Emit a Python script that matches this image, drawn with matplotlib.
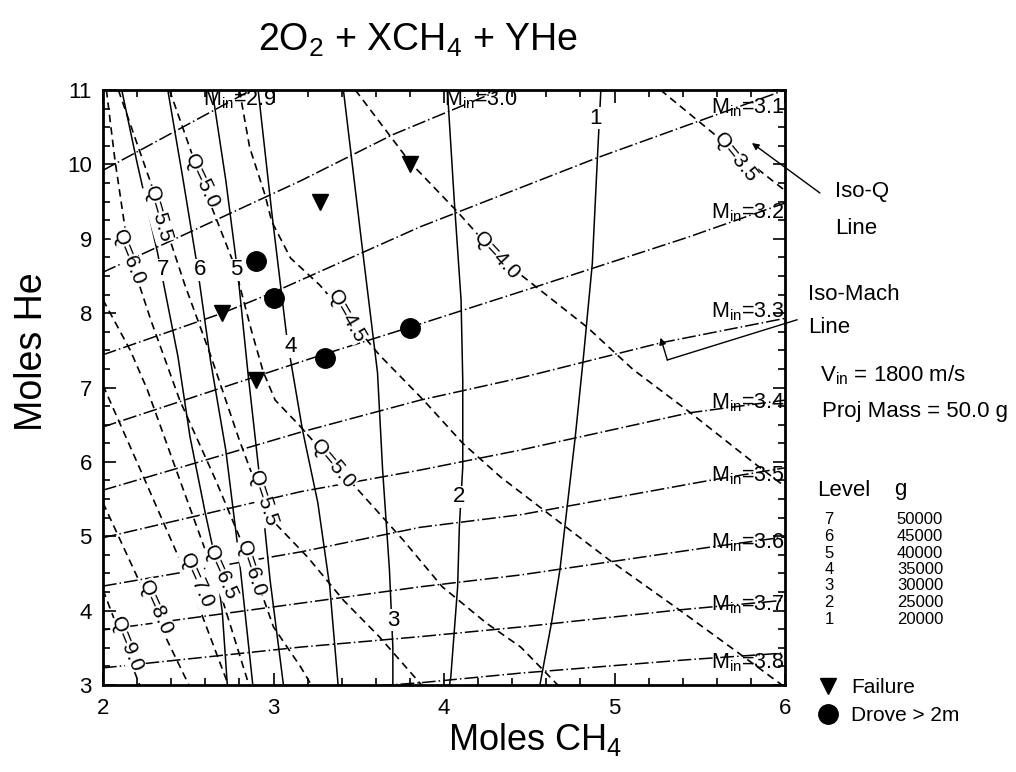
import matplotlib
matplotlib.use('Agg')
import matplotlib.pyplot as plt
from matplotlib.ticker import MultipleLocator

plt.rcParams['font.family'] = ['Liberation Sans', 'DejaVu Sans']
plt.rcParams['mathtext.fontset'] = 'custom'
plt.rcParams['mathtext.rm'] = 'Liberation Sans'
plt.rcParams['mathtext.it'] = 'Liberation Sans:italic'
plt.rcParams['mathtext.bf'] = 'Liberation Sans:bold'

# --- g-level contours (solid) ---
level_ids = [1, 2, 3, 4, 5, 6, 7]
level_x = [
    [4.92, 4.90, 4.87, 4.82, 4.77, 4.72, 4.68, 4.63, 4.56],
    [4.02, 4.06, 4.10, 4.11, 4.11, 4.09, 4.08, 4.04, 4.03],
    [3.41, 3.52, 3.61, 3.64, 3.68, 3.70, 3.70],
    [2.91, 2.99, 3.08, 3.17, 3.26, 3.33, 3.38],
    [2.64, 2.72, 2.79, 2.85, 2.92, 2.98, 3.06],
    [2.38, 2.47, 2.55, 2.63, 2.72, 2.80, 2.88],
    [2.11, 2.20, 2.32, 2.44, 2.51, 2.60, 2.66, 2.70, 2.73],
]
level_y = [
    [11.0, 10.10, 8.67, 7.46, 6.34, 5.35, 4.55, 3.83, 2.97],
    [11.0, 9.52, 8.18, 7.10, 5.93, 5.13, 4.32, 3.11, 2.97],
    [11.0, 8.89, 7.20, 5.89, 4.55, 3.51, 2.97],
    [11.0, 9.35, 7.64, 6.43, 5.45, 4.32, 2.97],
    [11.0, 9.79, 8.55, 7.20, 5.76, 4.41, 2.97],
    [11.0, 9.79, 8.67, 7.37, 6.16, 4.68, 2.97],
    [11.0, 10.02, 8.81, 7.41, 6.34, 5.31, 4.68, 3.97, 2.97],
]
level_label_x = [4.89, 4.09, 3.70, 3.10, 2.78, 2.57, 2.35]
level_label_y = [10.62, 5.53, 3.87, 7.55, 8.58, 8.58, 8.58]

# --- iso-Q lines (dashed) ---
q_values = [3.5, 4.0, 4.5, 5.0, 5.5, 6.0, 6.5, 7.0, 8.0, 9.0]
q_x = [
    [5.27, 5.70, 6.01],
    [3.48, 3.80, 4.08, 4.31, 4.84, 5.11, 5.44, 5.81, 6.01],
    [2.80, 2.86, 2.95, 2.99, 3.10, 3.27, 3.43, 3.62, 3.88, 4.11, 4.33, 4.62, 4.97, 5.38, 5.68, 6.0],
    [2.39, 2.58, 2.77, 2.87, 2.94, 3.01, 3.16, 3.34, 3.47, 3.76, 3.99, 4.25, 4.45, 4.68],
    [2.09, 2.32, 2.48, 2.63, 2.80, 2.93, 3.02, 3.20, 3.41, 3.62, 3.88],
    [2.02, 2.07, 2.15, 2.28, 2.45, 2.66, 2.87, 2.94, 3.00, 3.16, 3.23],
    [2.0, 2.16, 2.26, 2.45, 2.67, 2.86],
    [2.0, 2.22, 2.51, 2.74],
    [2.0, 2.29, 2.51],
    [2.0, 2.13, 2.22],
]
q_y = [
    [11.0, 10.19, 9.63],
    [11.0, 10.03, 9.36, 8.77, 7.81, 7.24, 6.67, 6.00, 5.65],
    [11.0, 10.23, 9.59, 9.23, 8.74, 8.38, 7.96, 7.44, 6.83, 6.25, 5.80, 5.29, 4.68, 4.01, 3.51, 2.97],
    [11.0, 9.76, 8.65, 7.77, 7.21, 6.83, 6.47, 6.00, 5.69, 4.95, 4.32, 3.83, 3.51, 2.97],
    [11.0, 9.49, 8.38, 7.44, 6.29, 5.49, 5.15, 4.72, 4.14, 3.65, 2.97],
    [11.0, 10.06, 8.82, 7.91, 6.83, 5.76, 4.61, 4.17, 3.78, 3.24, 2.97],
    [8.18, 7.50, 6.97, 5.76, 4.37, 2.97],
    [7.03, 5.89, 4.37, 2.97],
    [5.45, 4.01, 2.97],
    [4.28, 3.50, 2.97],
]
# label positions on the Q lines (upper set and lower set)
q_label_val = [6.0, 5.5, 5.0, 4.5, 4.0, 3.5, 5.0, 5.5, 6.0, 6.5, 7.0, 8.0, 9.0]
q_label_x = [2.15, 2.32, 2.58, 3.43, 4.31, 5.71, 3.35, 2.94, 2.87, 2.69, 2.55, 2.31, 2.14]
q_label_y = [8.75, 9.33, 9.78, 7.96, 8.77, 10.10, 5.97, 5.51, 4.57, 4.51, 4.40, 4.05, 3.55]
q_label_rot = [-68, -74, -65, -60, -47, -51, -50, -72, -72, -66, -66, -66, -68]

# --- iso-Mach lines (dash-dot) ---
mach_values = [2.9, 3.0, 3.1, 3.2, 3.3, 3.4, 3.5, 3.6, 3.7, 3.8]
mach_x = [
    [2.0, 2.87],
    [2.0, 3.16, 3.70, 4.33],
    [2.0, 2.70, 3.0, 3.86, 4.90, 6.0],
    [2.0, 2.90, 3.30, 3.80, 4.52, 5.43, 6.0],
    [2.0, 3.16, 3.86, 4.45, 5.27, 6.0],
    [2.0, 3.16, 3.86, 4.45, 5.44, 6.0],
    [2.0, 3.16, 3.86, 4.45, 5.58, 6.0],
    [2.0, 3.16, 3.86, 4.45, 5.58, 6.0],
    [2.0, 3.16, 3.86, 4.45, 5.38, 6.0],
    [3.62, 3.86, 4.45, 5.43, 6.0],
]
mach_y = [
    [9.92, 11.0],
    [8.55, 9.78, 10.40, 11.0],
    [7.44, 8.0, 8.28, 9.16, 10.09, 11.0],
    [6.47, 7.15, 7.45, 7.81, 8.34, 9.02, 9.48],
    [5.62, 6.40, 6.83, 7.13, 7.60, 7.93],
    [4.98, 5.60, 5.89, 6.16, 6.66, 6.83],
    [4.33, 4.79, 5.12, 5.29, 5.76, 5.92],
    [3.74, 4.10, 4.32, 4.48, 4.86, 4.99],
    [3.23, 3.51, 3.65, 3.78, 4.01, 4.14],
    [2.99, 3.03, 3.16, 3.34, 3.43],
]
mach_label_x = [2.80, 4.22, 6.0, 6.0, 6.0, 6.0, 6.0, 6.0, 6.0, 6.0]
mach_label_y = [10.87, 10.87, 10.76, 9.35, 8.02, 6.79, 5.82, 4.91, 4.08, 3.30]

# --- experiments ---
fail_x = [3.27, 3.80, 2.70, 2.90]
fail_y = [9.5, 10.0, 8.0, 7.1]
drove_x = [2.90, 3.00, 3.30, 3.80]
drove_y = [8.7, 8.2, 7.4, 7.8]

table_levels = [7, 6, 5, 4, 3, 2, 1]
table_g = [50000, 45000, 40000, 35000, 30000, 25000, 20000]

W, H = 1016, 772
fig = plt.figure(figsize=(W / 100, H / 100), dpi=100)
ax = fig.add_axes([103 / W, 1 - 685 / H, 682 / W, 595 / H])

for xs, ys in zip(level_x, level_y):
    ax.plot(xs, ys, color='black', lw=1.1)
for xs, ys in zip(q_x, q_y):
    ax.plot(xs, ys, color='black', lw=1.2, linestyle=(0, (4.5, 3)))
for xs, ys in zip(mach_x, mach_y):
    ax.plot(xs, ys, color='black', lw=1.1, linestyle=(0, (9, 2, 1, 2)))

for lvl, lx, ly in zip(level_ids, level_label_x, level_label_y):
    ax.text(lx, ly, str(lvl), fontsize=16, ha='center', va='center',
            bbox=dict(fc='white', ec='none', pad=0.4))

for q, lx, ly, rot in zip(q_label_val, q_label_x, q_label_y, q_label_rot):
    ax.text(lx, ly, f'Q={q:.1f}', fontsize=15, ha='center', va='center',
            rotation=rot, rotation_mode='anchor',
            bbox=dict(fc='white', ec='none', pad=0.2))

for i, (m, lx, ly) in enumerate(zip(mach_values, mach_label_x, mach_label_y)):
    ax.text(lx, ly, r'M$_{\rm in}$=' + f'{m:.1f}', fontsize=15.5,
            ha='center' if i < 2 else 'right', va='center')

ax.plot(fail_x, fail_y, 'v', color='black', ms=12, ls='none', label='Failure')
ax.plot(drove_x, drove_y, 'o', color='black', ms=14, ls='none', label='Drove > 2m')

ax.set_xlim(2, 6)
ax.set_ylim(3, 11)
ax.xaxis.set_major_locator(MultipleLocator(1))
ax.xaxis.set_minor_locator(MultipleLocator(0.2))
ax.yaxis.set_major_locator(MultipleLocator(1))
ax.yaxis.set_minor_locator(MultipleLocator(0.25))
ax.tick_params(which='both', direction='in', top=True, right=True, width=1.2)
ax.tick_params(which='major', length=9, labelsize=16)
ax.tick_params(which='minor', length=5)
ax.tick_params(axis='x', pad=9)
ax.tick_params(axis='y', pad=8)
for s in ax.spines.values():
    s.set_linewidth(2)

# annotation arrows
ax.annotate('', xy=(5.806, 10.287), xytext=(6.205, 9.615),
            arrowprops=dict(arrowstyle='-|>', color='black', lw=1.0, mutation_scale=10,
                            shrinkA=0, shrinkB=0), annotation_clip=False)
ax.plot([6.07, 5.31], [7.91, 7.37], color='black', lw=1.0, clip_on=False)
ax.annotate('', xy=(5.27, 7.67), xytext=(5.31, 7.37),
            arrowprops=dict(arrowstyle='-|>', color='black', lw=1.0, mutation_scale=10,
                            shrinkA=0, shrinkB=0), annotation_clip=False)

fig.text(418 / W, 1 - 40 / H, r'2O$_2$ + XCH$_4$ + YHe', fontsize=27, ha='center', va='center')
fig.text(535 / W, 1 - 740 / H, r'Moles CH$_4$', fontsize=26, ha='center', va='center')
fig.text(32 / W, 1 - 352 / H, 'Moles He', fontsize=27, ha='center', va='center', rotation=90)

fs_note = 16
fig.text(835 / W, 1 - 192 / H, 'Iso-Q', fontsize=fs_note, ha='left', va='center')
fig.text(835 / W, 1 - 228 / H, 'Line', fontsize=fs_note, ha='left', va='center')
fig.text(808 / W, 1 - 295 / H, 'Iso-Mach', fontsize=fs_note, ha='left', va='center')
fig.text(808 / W, 1 - 328 / H, 'Line', fontsize=fs_note, ha='left', va='center')
fig.text(820 / W, 1 - 375 / H, r'V$_{\rm in}$ = 1800 m/s', fontsize=fs_note, ha='left', va='center')
fig.text(822 / W, 1 - 412 / H, 'Proj Mass = 50.0 g', fontsize=fs_note, ha='left', va='center')

fig.text(817 / W, 1 - 490 / H, 'Level', fontsize=fs_note, ha='left', va='center')
fig.text(900 / W, 1 - 490 / H, 'g', fontsize=fs_note, ha='center', va='center')
for i, (lvl, g) in enumerate(zip(table_levels, table_g)):
    yy = 1 - (520 + i * 16.5) / H
    fig.text(829 / W, yy, str(lvl), fontsize=12, ha='center', va='center')
    fig.text(920 / W, yy, str(g), fontsize=12, ha='center', va='center')

ax.legend(loc='upper left', bbox_to_anchor=(818 / W, 1 - 678 / H), bbox_transform=fig.transFigure,
          frameon=False, fontsize=15, handlelength=1.0, handletextpad=0.6,
          labelspacing=0.45, borderpad=0, borderaxespad=0)

fig.savefig('out.png', dpi=100, facecolor='white')
